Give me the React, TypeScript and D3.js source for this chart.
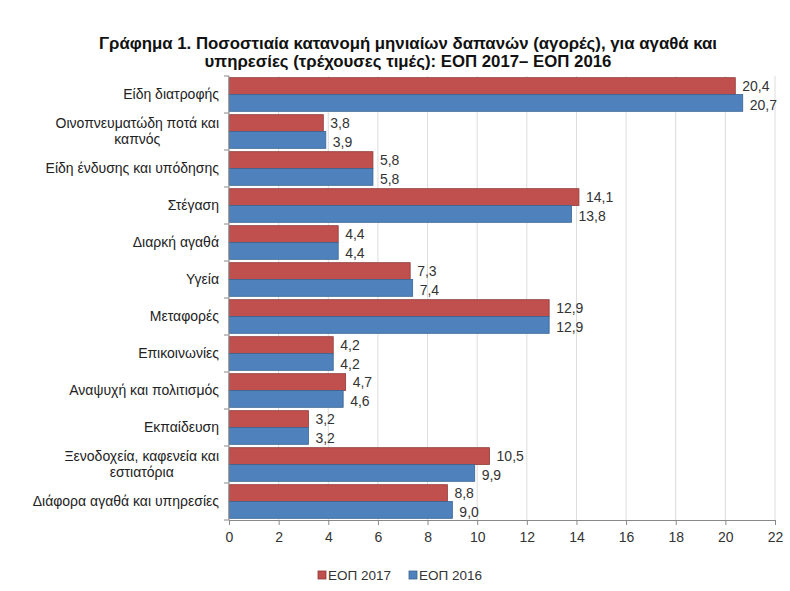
import React, { useEffect, useRef } from 'react';
import * as d3 from 'd3';

const categories = [
  'Είδη διατροφής',
  'Οινοπνευματώδη ποτά και\nκαπνός',
  'Είδη ένδυσης και υπόδησης',
  'Στέγαση',
  'Διαρκή αγαθά',
  'Υγεία',
  'Μεταφορές',
  'Επικοινωνίες',
  'Αναψυχή και πολιτισμός',
  'Εκπαίδευση',
  'Ξενοδοχεία, καφενεία και\nεστιατόρια',
  'Διάφορα αγαθά και υπηρεσίες',
];

const values2017 = [20.4, 3.8, 5.8, 14.1, 4.4, 7.3, 12.9, 4.2, 4.7, 3.2, 10.5, 8.8];
const values2016 = [20.7, 3.9, 5.8, 13.8, 4.4, 7.4, 12.9, 4.2, 4.6, 3.2, 9.9, 9.0];

const seriesNames = ['ΕΟΠ 2017', 'ΕΟΠ 2016'];
const xTicks = [0, 2, 4, 6, 8, 10, 12, 14, 16, 18, 20, 22];

const titleLines = [
  'Γράφημα 1. Ποσοστιαία κατανομή μηνιαίων δαπανών (αγορές), για αγαθά και',
  'υπηρεσίες (τρέχουσες τιμές): ΕΟΠ 2017– ΕΟΠ 2016',
];

const colors = ['#C0504D', '#4F81BD'];
const strokes = ['#8E3B39', '#3A6591'];

export default function App() {
  const svgRef = useRef<SVGSVGElement>(null);
  const width = 790;
  const height = 591;

  useEffect(() => {
    document.body.style.margin = '0';
    const svg = d3.select(svgRef.current);
    svg.selectAll('*').remove();

    const font = 'Liberation Sans, Arial, sans-serif';
    const fs = '14px';
    const left = 229;
    const right = 775;
    const top = 76;
    const bottom = 520;

    const x = d3.scaleLinear().domain([0, 22]).range([left, right]);
    const y = d3.scaleBand<number>().domain(d3.range(categories.length)).range([top, bottom]);
    const sub = d3.scaleBand<number>().domain([0, 1]).range([0, y.bandwidth()]).paddingOuter(0.1).paddingInner(0);

    svg.append('rect').attr('width', width).attr('height', height).attr('fill', '#fff');

    // Title
    svg.selectAll('.title')
      .data(titleLines)
      .enter()
      .append('text')
      .attr('x', 408)
      .attr('y', (d, i) => 49 + i * 18)
      .attr('text-anchor', 'middle')
      .style('font-family', font)
      .style('font-size', '16.8px')
      .style('font-weight', 'bold')
      .style('fill', '#111')
      .text(d => d);

    // Grid
    svg.selectAll('.grid')
      .data(xTicks.slice(1))
      .enter()
      .append('line')
      .attr('x1', d => x(d))
      .attr('x2', d => x(d))
      .attr('y1', top)
      .attr('y2', bottom)
      .style('stroke', '#dcdcdc')
      .style('stroke-width', 1);

    // Bars
    const series = [values2017, values2016];
    series.forEach((vals, s) => {
      svg.selectAll(`.bar-${s}`)
        .data(vals)
        .enter()
        .append('rect')
        .attr('x', x(0))
        .attr('y', (d, i) => (y(i) as number) + (sub(s) as number))
        .attr('width', d => x(d) - x(0))
        .attr('height', sub.bandwidth())
        .style('fill', colors[s])
        .style('stroke', strokes[s])
        .style('stroke-width', 0.8);

      svg.selectAll(`.lbl-${s}`)
        .data(vals)
        .enter()
        .append('text')
        .attr('x', d => x(d) + 7)
        .attr('y', (d, i) => (y(i) as number) + (sub(s) as number) + sub.bandwidth() / 2 + (s === 0 ? 0 : 2))
        .attr('dy', '0.35em')
        .style('font-family', font)
        .style('font-size', fs)
        .style('fill', '#333')
        .text(d => d3.format('.1f')(d).replace('.', ','));
    });

    // Left axis
    svg.append('line')
      .attr('x1', left).attr('x2', left)
      .attr('y1', top).attr('y2', bottom)
      .style('stroke', '#888');
    svg.selectAll('.ytick')
      .data(d3.range(categories.length + 1))
      .enter()
      .append('line')
      .attr('x1', left - 5).attr('x2', left)
      .attr('y1', d => top + d * y.step())
      .attr('y2', d => top + d * y.step())
      .style('stroke', '#888');

    // Category labels
    categories.forEach((c, i) => {
      const lines = c.split('\n');
      const cy = (y(i) as number) + y.bandwidth() / 2;
      const t = svg.append('text')
        .attr('text-anchor', 'middle')
        .style('font-family', font)
        .style('font-size', fs)
        .style('fill', '#222');
      const tmp = svg.append('text')
        .style('font-family', font)
        .style('font-size', fs)
        .text(lines[0]);
      const w = (tmp.node() as SVGTextElement).getComputedTextLength();
      tmp.remove();
      const cx = 219 - w / 2;
      lines.forEach((ln, j) => {
        t.append('tspan')
          .attr('x', lines.length > 1 ? cx : 219)
          .attr('y', cy + (j - (lines.length - 1) / 2) * 16)
          .attr('dy', '0.35em')
          .text(ln);
      });
      if (lines.length === 1) t.attr('text-anchor', 'end');
    });

    // X axis
    const xAxis = svg.append('g')
      .attr('transform', `translate(0,${bottom})`)
      .call(d3.axisBottom(x).tickValues(xTicks).tickSize(5).tickFormat(d => String(d)));
    xAxis.select('.domain').style('stroke', '#888');
    xAxis.selectAll('line').style('stroke', '#888');
    xAxis.selectAll('text')
      .attr('y', 12)
      .style('font-family', font)
      .style('font-size', fs)
      .style('fill', '#333');

    // Legend
    const legend = svg.append('g').attr('transform', 'translate(318, 575)');
    seriesNames.forEach((name, i) => {
      const g = legend.append('g').attr('transform', `translate(${i * 91}, 0)`);
      g.append('rect')
        .attr('x', 0).attr('y', -4)
        .attr('width', 8).attr('height', 8)
        .style('fill', colors[i])
        .style('stroke', strokes[i])
        .style('stroke-width', 0.8);
      g.append('text')
        .attr('x', 10).attr('y', 0)
        .attr('dy', '0.35em')
        .style('font-family', font)
        .style('font-size', '13.5px')
        .style('fill', '#333')
        .text(name);
    });
  }, []);

  return (
    <svg
      ref={svgRef}
      width={width}
      height={height}
      style={{ position: 'absolute', left: 0, top: 0, display: 'block' }}
    />
  );
}
